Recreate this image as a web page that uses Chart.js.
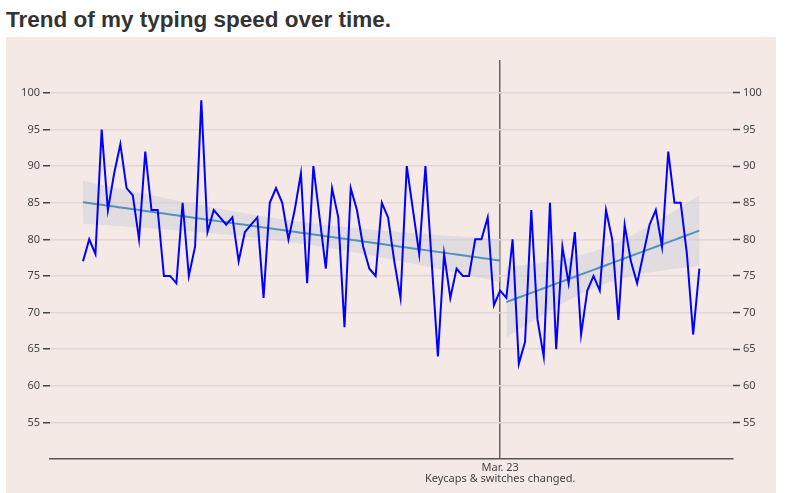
<!DOCTYPE html>
<html>
<head>
<meta charset="utf-8">
<script src="https://cdn.jsdelivr.net/npm/chart.js@4"></script>
<style>
    body { margin: 0; background: #fff; width: 787px; height: 493px; overflow: hidden; position: relative; }
    h1 { position: absolute; left: 6px; top: 8.6px; margin: 0; font: 700 22.5px/22.5px "Liberation Sans", Arial, sans-serif; color: #333; }
    #wrap { position: absolute; left: 6px; top: 37px; width: 770px; height: 456px; background: #f5e9e6; }
</style>
</head>
<body>
<h1>Trend of my typing speed over time.</h1>
<div id="wrap"><canvas id="chart"></canvas></div>
<script>
// words per minute, one reading per session
const speeds = [
    77, 80, 78, 95, 84, 89, 93, 87, 86, 80,
    92, 84, 84, 75, 75, 74, 85, 75, 79, 99,
    81, 84, 83, 82, 83, 77, 81, 82, 83, 72,
    85, 87, 85, 80, 84, 89, 74, 90, 83, 76,
    87, 83, 68, 87, 84, 79, 76, 75, 85, 83,
    77, 72, 90, 84, 78, 90, 77, 64, 78, 72,
    76, 75, 75, 80, 80, 83, 71, 73, 72, 80,
    63, 66, 84, 69, 64, 85, 65, 79, 74, 81,
    67, 73, 75, 73, 84, 80, 69, 82, 77, 74,
    78, 82, 84, 79, 92, 85, 85, 78, 67, 76,
];
const changeIndex = 67;
const changeLabel = ['Mar. 23', 'Keycaps & switches changed.'];
const yTicks = [55, 60, 65, 70, 75, 80, 85, 90, 95, 100];

// least squares fit + 95% band for a slice of the series
function fitGroup(start, end) {
    const xs = [];
    const ys = [];
    for (let i = start; i <= end; i++) { xs.push(i); ys.push(speeds[i]); }
    const n = xs.length;
    const mx = xs.reduce((a, b) => a + b, 0) / n;
    const my = ys.reduce((a, b) => a + b, 0) / n;
    let sxx = 0, sxy = 0;
    xs.forEach((x, i) => { sxx += (x - mx) ** 2; sxy += (x - mx) * (ys[i] - my); });
    const slope = sxy / sxx;
    const icpt = my - slope * mx;
    let sse = 0;
    xs.forEach((x, i) => { sse += (ys[i] - (icpt + slope * x)) ** 2; });
    const s = Math.sqrt(sse / (n - 2));
    const t = n > 40 ? 1.996 : 2.042;
    const mid = [], upper = [], lower = [];
    xs.forEach((x) => {
        const yhat = icpt + slope * x;
        const half = t * s * Math.sqrt(1 / n + (x - mx) ** 2 / sxx);
        mid.push({ x, y: yhat });
        upper.push({ x, y: yhat + half });
        lower.push({ x, y: yhat - half });
    });
    return { mid, upper, lower };
}

const before = fitGroup(0, changeIndex);
const after = fitGroup(changeIndex + 1, speeds.length - 1);

const bandFill = 'rgba(205,207,215,0.5)';
const fitColor = '#5093be';

function fitSets(g) {
    return [
        { data: g.mid, borderColor: fitColor, borderWidth: 2, pointRadius: 0, fill: false },
        { data: g.upper, borderWidth: 0, pointRadius: 0, fill: false },
        { data: g.lower, borderWidth: 0, pointRadius: 0, fill: '-1', backgroundColor: bandFill },
    ];
}

const tickFont = { family: '"Noto Sans", sans-serif', size: 11 };

new Chart(document.getElementById('chart'), {
    type: 'line',
    data: {
        datasets: [
            {
                data: speeds.map((v, i) => ({ x: i, y: v })),
                borderColor: '#0000ff',
                borderWidth: 2,
                pointRadius: 0,
                tension: 0,
                fill: false,
            },
            ...fitSets(before),
            ...fitSets(after),
        ],
    },
    options: {
        responsive: true,
        maintainAspectRatio: false,
        animation: false,
        layout: { padding: { top: 23, left: 0, right: 0, bottom: 0 } },
        plugins: { legend: { display: false }, tooltip: { enabled: false } },
        scales: {
            x: {
                type: 'linear',
                min: -5.3,
                max: 104.4,
                afterBuildTicks: (axis) => { axis.ticks = [{ value: changeIndex }]; },
                afterFit: (axis) => { axis.height = 34; },
                ticks: {
                    autoSkip: false,
                    maxRotation: 0,
                    padding: 3,
                    color: '#444',
                    font: { ...tickFont, lineHeight: 1.05 },
                    callback: () => changeLabel,
                },
                grid: { color: '#666', lineWidth: 1.5, drawTicks: false },
                border: { display: true, color: '#555', width: 1.5 },
            },
            y: {
                position: 'left',
                min: 50,
                max: 104.5,
                afterBuildTicks: (axis) => { axis.ticks = yTicks.map((v) => ({ value: v })); },
                afterFit: (axis) => { axis.width = 44; },
                ticks: { color: '#444', padding: 3, font: tickFont },
                grid: { color: '#e3d6d4', lineWidth: 1.5, tickLength: 7, tickColor: '#444', tickWidth: 1.5 },
                border: { display: false },
            },
            y2: {
                position: 'right',
                min: 50,
                max: 104.5,
                afterBuildTicks: (axis) => { axis.ticks = yTicks.map((v) => ({ value: v })); },
                afterFit: (axis) => { axis.width = 43; },
                ticks: { color: '#444', padding: 3, font: tickFont },
                grid: { drawOnChartArea: false, tickLength: 7, tickColor: '#444', tickWidth: 1.5 },
                border: { display: false },
            },
        },
    },
});
</script>
</body>
</html>
